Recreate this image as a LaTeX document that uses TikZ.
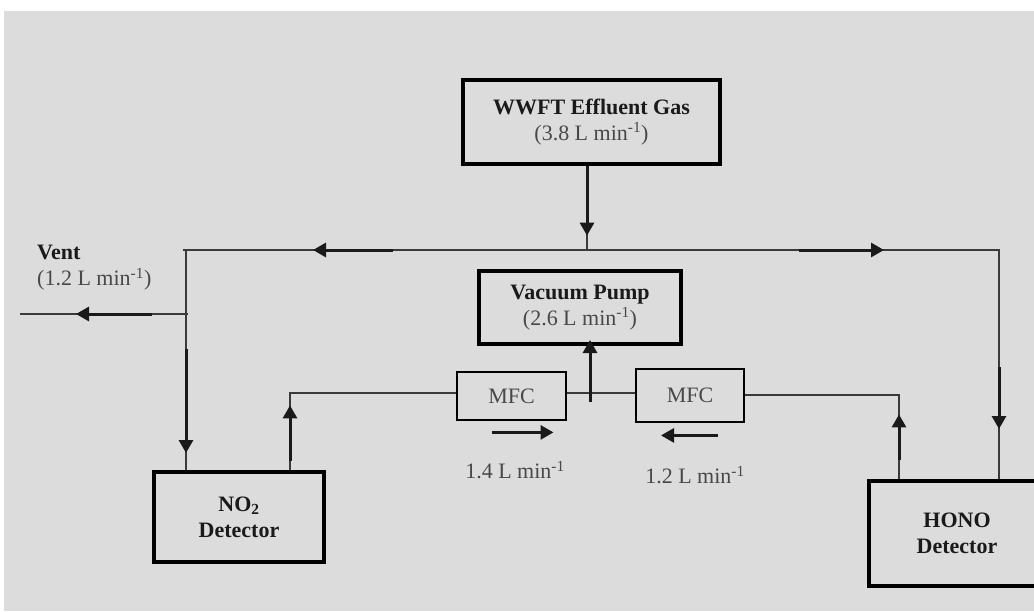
\documentclass[tikz,border=0pt]{standalone}
\usepackage{fontspec}
\setmainfont{Liberation Serif}
\usepackage{xcolor}
\usepackage{tikz}
\usetikzlibrary{arrows.meta,positioning,calc}
\definecolor{panel}{HTML}{DCDCDC}
\definecolor{ink}{HTML}{1A1A1A}
\definecolor{softink}{HTML}{484848}
\definecolor{tube}{HTML}{3A3A3A}
\newcommand{\lpm}{L min\textsuperscript{-1}}
\tikzset{
  unit/.style ={draw=black,line width=3.2pt,fill=panel,inner sep=0pt,align=center,
                font=\fontsize{22}{26}\selectfont,text=ink},
  meter/.style={unit,line width=2.8pt,text=softink},
  rate/.style ={inner sep=0pt,font=\fontsize{22}{26}\selectfont,text=softink},
  pipe/.style ={line width=1.3pt,draw=tube},
  flow/.style ={-{Triangle[length=13pt,width=14pt]},line width=3pt,draw=ink}
}

\begin{document}
\begin{tikzpicture}[x=1pt,y=-1pt]
  \useasboundingbox (0,0) rectangle (1034,611);
  \clip (0,0) rectangle (1034,611);
  \fill[white] (0,0) rectangle (1034,611);
  \fill[panel] (4,11) rectangle (1034,611);
  % units
  \node[unit,minimum width=257pt,minimum height=84pt] (gas) at (591.5,122)
       {\textbf{WWFT Effluent Gas}\\{\color{softink}(3.8 \lpm)}};
  \node[unit,minimum width=202pt,minimum height=73pt] (pump) at (580,307.5)
       {\textbf{Vacuum Pump}\\{\color{softink}(2.6 \lpm)}};
  \node[meter,minimum width=109pt,minimum height=48pt] (mfcA) at (511.5,396) {MFC};
  \node[meter,minimum width=108pt,minimum height=53pt] (mfcB) at (690,395.5) {MFC};
  \node[unit,minimum width=170pt,minimum height=90pt] (no2) at (239,517)
       {\textbf{NO\textsubscript{2}}\\\textbf{Detector}};
  \node[unit,minimum width=176pt,minimum height=105pt] (hono) at (957,533.5)
       {\textbf{HONO}\\\textbf{Detector}};
  \node[rate,align=left,anchor=west] (ventlbl) at (37,268)
       {\textbf{\color{ink}Vent}\\(1.2 \lpm)};
  \node[rate] (rateA) at (515,470) {1.4 \lpm};
  \node[rate] (rateB) at (695,475) {1.2 \lpm};
  % junctions
  \coordinate (jTop) at (587,250);
  \coordinate (jL) at (186,250);
  \coordinate (jR) at (999,250);
  \coordinate (jVent) at (186,314);
  \coordinate (ventEnd) at (20,314);
  \coordinate (jNo2) at (290,393);
  \coordinate (jPump) at (590,393);
  \coordinate (jHono) at (899,395);
  % tubing
  \draw[pipe] ([xshift=-3pt]jL) -- ([xshift=1pt]jR);
  \draw[pipe] (gas.south -| jTop) -- (jTop);
  \draw[pipe] (jL) -- (no2.north -| jL);
  \draw[pipe] (ventEnd) -- ([xshift=2pt]jVent);
  \draw[pipe] (jR) -- (hono.north -| jR);
  \draw[pipe] (no2.north -| jNo2) -- (jNo2) -- (mfcA.west |- jNo2);
  \draw[pipe] (mfcA.east |- jPump) -- (mfcB.west |- jPump);
  \draw[pipe] (mfcB.east |- jHono) -- (jHono) -- (hono.north -| jHono);
  % flow directions
  \draw[flow] (gas.south -| jTop) -- ++(0,70);
  \draw[flow] (jL) ++(207,0) -- ++(-80,0);
  \draw[flow] (jR) ++(-200,0) -- ++(85,0);
  \draw[flow] (jVent) ++(-34,0) -- ++(-76,0);
  \draw[flow] (jL) ++(0,99) -- ++(0,104);
  \draw[flow] (no2.north -| jNo2) ++(0,-9) -- ++(0,-56);
  \draw[flow] (jPump) ++(0,9) -- ++(0,-62);
  \draw[flow] (hono.north -| jHono) ++(0,-19) -- ++(0,-46);
  \draw[flow] (jR) ++(0,117) -- ++(0,62);
  \draw[flow] (mfcA.south) ++(-20,11) -- ++(62,0);
  \draw[flow] (mfcB.south) ++(28,12) -- ++(-57,0);
\end{tikzpicture}
\end{document}
